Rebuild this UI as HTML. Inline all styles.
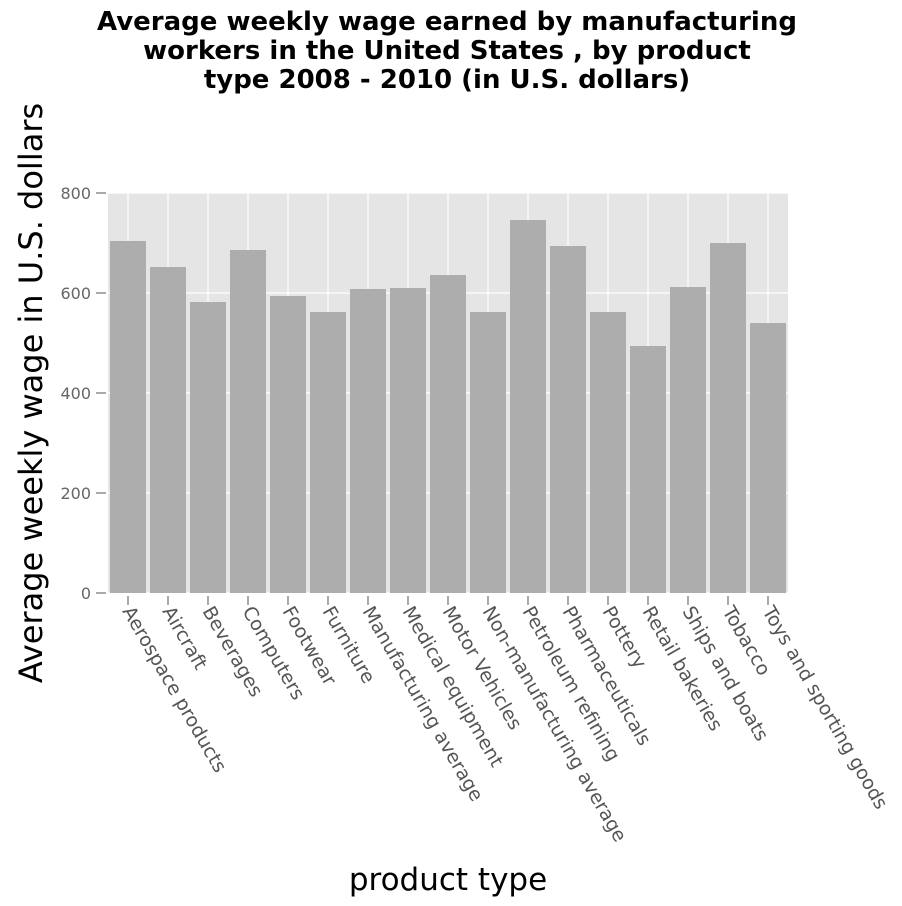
<!DOCTYPE html>
<html><head><meta charset="utf-8"><style>
html,body{margin:0;padding:0;background:#fff;width:902px;height:906px;overflow:hidden}
text{font-family:"DejaVu Sans",sans-serif}
</style></head><body>
<svg id="chart" width="902" height="906" xmlns="http://www.w3.org/2000/svg">
<g>
<text x="447" y="30" font-size="26" font-weight="bold" text-anchor="middle">Average weekly wage earned by manufacturing</text>
<text x="447" y="59" font-size="26" font-weight="bold" text-anchor="middle">workers in the United States , by product</text>
<text x="447" y="88" font-size="26" font-weight="bold" text-anchor="middle">type 2008 - 2010 (in U.S. dollars)</text>
</g>
<text transform="translate(42,393) rotate(-90)" font-size="32" text-anchor="middle">Average weekly wage in U.S. dollars</text>
<text x="448" y="890" font-size="31" text-anchor="middle">product type</text>
<g id="plot"></g>
</svg>
<script>
const categories=["Aerospace products","Aircraft","Beverages","Computers","Footwear","Furniture","Manufacturing average","Medical equipment","Motor Vehicles","Non-manufacturing average","Petroleum refining","Pharmaceuticals","Pottery","Retail bakeries","Ships and boats","Tobacco","Toys and sporting goods"];
const wages=[704,652,582,686,594,562,608,610,636,562,746,694,562,494,612,700,540];
const yTicks=[0,200,400,600,800];
const NS="http://www.w3.org/2000/svg";
const L=108,R=788,T=193,B=593,yMax=800;
const band=(R-L)/categories.length;
const y=v=>B-(v/yMax)*(B-T);
const xc=i=>L+band*(i+0.5);
const g=document.getElementById('plot');
function mk(t,a){const e=document.createElementNS(NS,t);for(const k in a)e.setAttribute(k,a[k]);g.appendChild(e);return e;}
const bg=mk('rect',{x:L,y:T,width:R-L,height:B-T,fill:'#e5e5e5'});


yTicks.forEach(v=>{
  const gl=mk('line',{x1:L,x2:R,y1:y(v),y2:y(v),stroke:'#fff','stroke-width':1.2});
  
  
  const tk=mk('line',{x1:96,x2:106,y1:y(v),y2:y(v),stroke:'#555'});
  
  
  const tl=mk('text',{x:91,y:y(v)+6,'font-size':16,fill:'#666','text-anchor':'end'});
  tl.textContent=v;
  
  
});
categories.forEach((c,i)=>{
  const gl=mk('line',{x1:xc(i),x2:xc(i),y1:T,y2:B,stroke:'#fff','stroke-width':1.2});
  
  
});
categories.forEach((c,i)=>{
  const bw=band*0.9;
  const b=mk('rect',{x:xc(i)-bw/2,y:y(wages[i]),width:bw,height:B-y(wages[i]),fill:'#adadad'});
  
  
  const tk=mk('line',{x1:xc(i),x2:xc(i),y1:596,y2:605,stroke:'#555'});
  
  
  const tl=mk('text',{transform:`translate(${xc(i)-6},${611}) rotate(60)`,'font-size':19,fill:'#555'});
  tl.textContent=c;
  
  
});
</script>
</body></html>
